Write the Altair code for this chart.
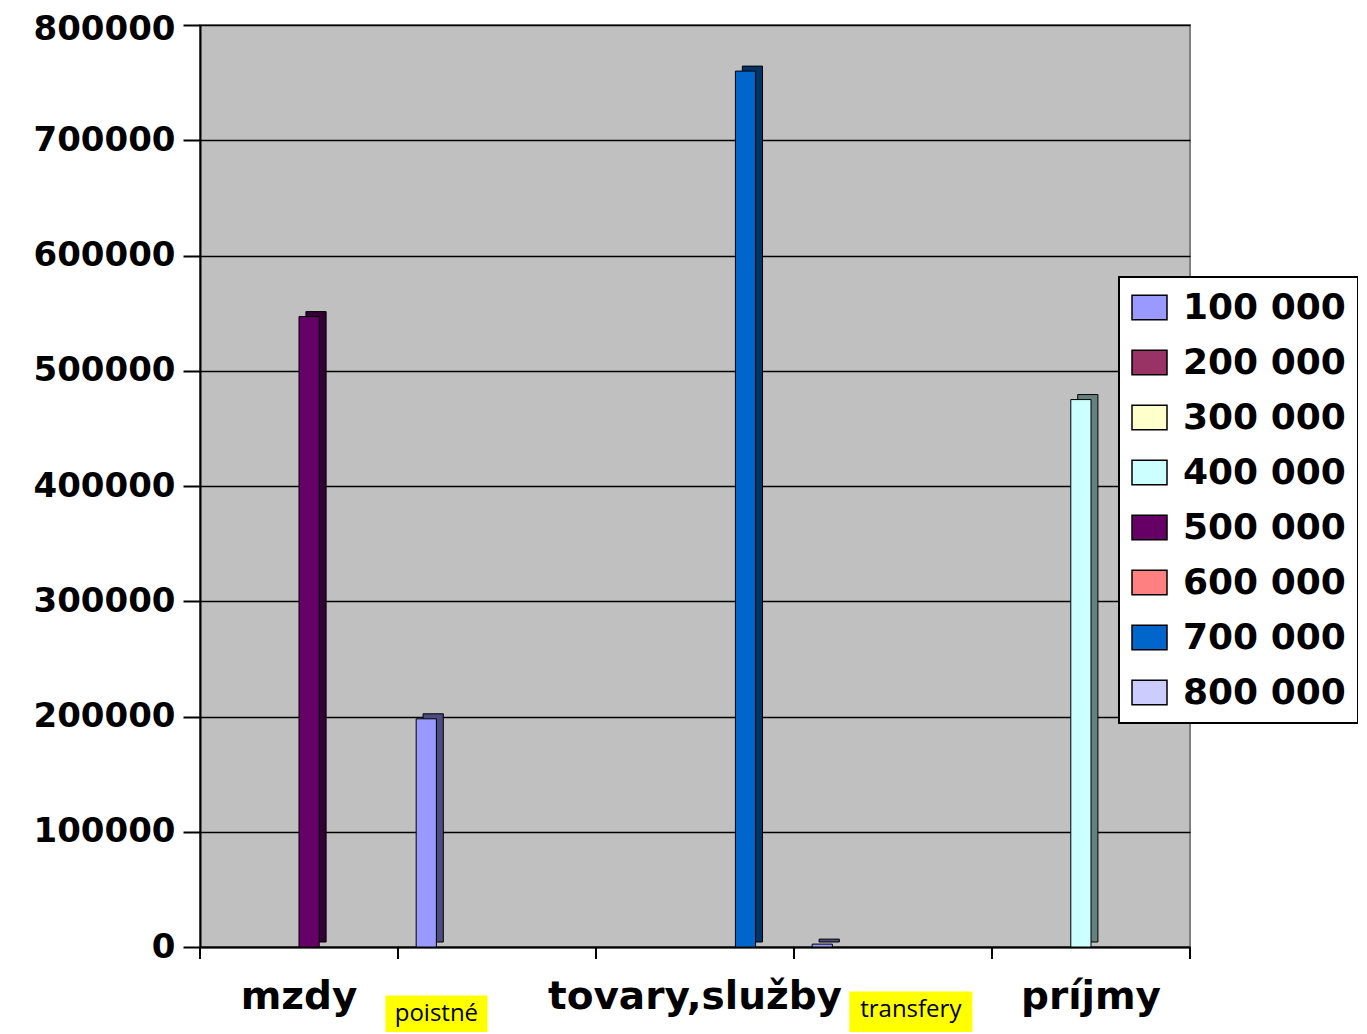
import altair as alt
import pandas as pd

# ---- data ----
categories = ["mzdy", "poistné", "tovary,služby", "transfery", "príjmy"]
bar_series = ["500 000", "100 000", "700 000", "100 000", "400 000"]
bar_values = [547000, 198000, 760000, 2500, 475000]

series_names = ["100 000", "200 000", "300 000", "400 000",
                "500 000", "600 000", "700 000", "800 000"]
series_colors = ["#9999FF", "#993366", "#FFFFCC", "#CCFFFF",
                 "#660066", "#FF8080", "#0066CC", "#CCCCFF"]

y_ticks = [0, 100000, 200000, 300000, 400000, 500000, 600000, 700000, 800000]

# labels that sit in yellow boxes under the axis, and their band position
boxed_labels = ["poistné", "transfery"]
boxed_band_pos = [0.194, 0.59]
boxed_sizes = [(102, 37), (123, 41)]

hidden_expr = " || ".join([f"datum.label == '{l}'" for l in boxed_labels])


def darken(hx, f=0.5):
    hx = hx.lstrip("#")
    r, g, b = (int(hx[i:i + 2], 16) for i in (0, 2, 4))
    return "#{:02x}{:02x}{:02x}".format(int(r * f), int(g * f), int(b * f))


df = pd.DataFrame({"cat": categories, "series": bar_series, "value": bar_values})
df["dark"] = [darken(series_colors[series_names.index(s)]) for s in df["series"]]
cat_df = pd.DataFrame({"cat": categories})

W, H = 990, 922
FONT = "DejaVu Sans"

xscale = alt.Scale(domain=categories, paddingInner=0, paddingOuter=0)
yscale = alt.Scale(domain=[0, 800000], nice=False)

x_axis = alt.Axis(
    title=None, labelExpr=f"({hidden_expr}) ? '' : datum.label",
    labelFont=FONT, labelFontWeight="bold", labelFontSize=39, labelColor="black",
    labelAngle=0, labelBaseline="alphabetic", labelPadding=61, ticks=False, tickSize=0,
    domainColor="black", domainWidth=2, grid=False, labelLimit=500,
)
y_axis = alt.Axis(
    title=None, values=y_ticks, format="d",
    labelFont=FONT, labelFontWeight="bold", labelFontSize=34, labelColor="black",
    labelOffset={"condition": {"test": f"datum.value == {y_ticks[-1]}", "value": 4}, "value": 0},
    tickSize=17, tickColor="black", tickWidth=2, labelPadding=8,
    domainColor="black", domainWidth=2,
    grid=True, gridColor="black", gridWidth=1.5,
)

x_enc = alt.X("cat:N", scale=xscale, axis=x_axis, sort=categories)
y_enc = alt.Y("value:Q", scale=yscale, axis=y_axis)

rect_path = "M-1,-0.7L1,-0.7L1,0.7L-1,0.7Z"

# back (side + top) faces, shifted right and up
back = alt.Chart(df).mark_bar(yOffset=-5, stroke="black", strokeWidth=1).encode(
    x=x_enc,
    xOffset=alt.XOffset("series:N", scale=alt.Scale(domain=series_names, paddingOuter=0.9,
                                                     paddingInner=0, align=0.69)),
    y=y_enc,
    fill=alt.Fill("dark:N", scale=None),
)

front = alt.Chart(df).mark_bar(stroke="black", strokeWidth=1).encode(
    x=x_enc,
    xOffset=alt.XOffset("series:N", scale=alt.Scale(domain=series_names, paddingOuter=0.9,
                                                     paddingInner=0)),
    y=y_enc,
    color=alt.Color(
        "series:N",
        scale=alt.Scale(domain=series_names, range=series_colors),
        legend=alt.Legend(
            title=None, orient="none", legendX=919, legendY=252,
            symbolType=rect_path, symbolSize=1225, symbolStrokeColor="black",
            symbolStrokeWidth=1.5, symbolOpacity=1,
            labelFont=FONT, labelFontWeight="bold", labelFontSize=36, labelColor="black",
            labelOffset=15, rowPadding=18, padding=12, labelLimit=400,
            fillColor="white", strokeColor="black",
        ),
    ),
)

# x-axis tick marks at band boundaries
ticks_start = alt.Chart(cat_df).mark_rule(color="black", strokeWidth=2).encode(
    x=alt.X("cat:N", scale=xscale, bandPosition=0, sort=categories),
    y=alt.value(H), y2=alt.value(H + 12),
)
ticks_end = alt.Chart(cat_df[cat_df["cat"] == categories[-1]]).mark_rule(
    color="black", strokeWidth=2).encode(
    x=alt.X("cat:N", scale=xscale, bandPosition=1, sort=categories),
    y=alt.value(H), y2=alt.value(H + 12),
)

layers = [back, front, ticks_start, ticks_end]

text_y = [H + 74, H + 70]
box_y = [H + 67, H + 65]
for lab, bp, (bw, bh), ty, by in zip(boxed_labels, boxed_band_pos, boxed_sizes, text_y, box_y):
    ld = pd.DataFrame({"cat": [lab]})
    r = bh / bw
    box = alt.Chart(ld).mark_point(
        shape=f"M-1,-{r:.4f}L1,-{r:.4f}L1,{r:.4f}L-1,{r:.4f}Z",
        size=bw * bw, filled=True, fill="#FFFF00", opacity=1, strokeWidth=0,
    ).encode(
        x=alt.X("cat:N", scale=xscale, bandPosition=bp, sort=categories),
        y=alt.value(by),
    )
    txt = alt.Chart(ld).mark_text(
        font="Open Sans", fontSize=24, baseline="alphabetic", align="center", color="black",
    ).encode(
        x=alt.X("cat:N", scale=xscale, bandPosition=bp, sort=categories),
        y=alt.value(ty),
        text="cat:N",
    )
    layers += [box, txt]

chart = alt.layer(*layers).resolve_scale(xOffset="independent").properties(
    width=W, height=H,
    autosize=alt.AutoSizeParams(type="none"),
    padding={"left": 192, "top": 17, "right": 168, "bottom": 85},
    background="white",
).configure_view(
    fill="#C0C0C0", stroke="#808080", strokeWidth=2,
).configure_legend(strokeWidth=2)

chart.save("out.html", embed_options={"renderer": "svg", "actions": False})
